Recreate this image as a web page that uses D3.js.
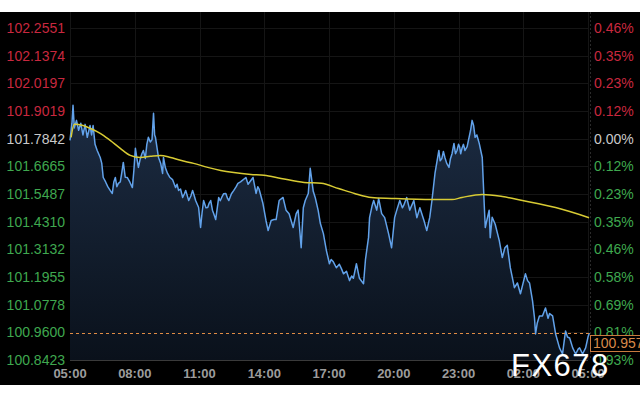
<!DOCTYPE html>
<html><head><meta charset="utf-8">
<script src="https://cdn.jsdelivr.net/npm/d3@7"></script>
<style>html,body{margin:0;padding:0;background:#fff;}svg{display:block;}</style>
</head><body><svg id="c" width="640" height="400"></svg>
<script>
// ---- data ----
const timeTickHours = [0, 3, 6, 9, 12, 15, 18, 21, 24];
const timeTickLabels = ["05:00","08:00","11:00","14:00","17:00","20:00","23:00","02:00","05:00"];
const priceTicks = [100.8423,100.9600,101.0778,101.1955,101.3132,101.4310,101.5487,101.6665,101.7842,101.9019,102.0197,102.1374,102.2551];
const pctLabels = ["0.93%","0.81%","0.69%","0.58%","0.46%","0.35%","0.23%","0.12%","0.00%","0.12%","0.23%","0.35%","0.46%"];
const refPrice = 101.7842;
const lastPrice = 100.957;
const lastPriceLabel = "100.957";
const watermark = "FX678";
// hours since 05:00
const priceHours = [0.00,0.09,0.14,0.20,0.30,0.40,0.50,0.60,0.70,0.80,0.93,1.00,1.07,1.16,1.26,1.40,1.47,1.54,1.65,1.75,1.86,1.96,2.03,2.10,2.17,2.24,2.33,2.40,2.47,2.56,2.65,2.77,2.89,2.96,3.03,3.10,3.17,3.26,3.33,3.40,3.49,3.56,3.63,3.72,3.80,3.87,3.92,3.96,4.05,4.10,4.20,4.29,4.33,4.42,4.52,4.62,4.75,4.89,4.96,5.03,5.12,5.22,5.30,5.36,5.50,5.60,5.68,5.76,5.82,5.96,6.05,6.12,6.19,6.30,6.38,6.45,6.52,6.60,6.66,6.75,6.89,6.96,7.03,7.12,7.22,7.30,7.36,7.48,7.59,7.70,7.78,
7.90,8.15,8.25,8.48,8.62,8.70,8.76,8.94,9.08,9.18,9.32,9.45,9.55,9.69,9.87,10.01,10.15,10.34,10.48,10.57,10.71,10.81,10.90,11.04,11.13,11.27,11.36,11.50,11.60,11.74,11.88,12.02,12.10,12.20,12.34,12.48,12.58,12.67,12.81,12.95,13.05,13.13,13.27,13.41,13.60,13.69,13.83,13.88,14.00,14.07,14.21,14.30,14.44,14.58,14.76,14.90,15.04,15.14,15.28,15.40,15.46,15.60,15.74,15.93,16.07,16.21,16.40,16.53,16.67,
16.77,16.91,17.09,17.15,17.23,17.30,17.37,17.45,17.56,17.63,17.70,17.79,17.86,17.93,18.00,18.05,18.10,18.16,18.23,18.30,18.40,18.49,18.56,18.63,18.70,18.77,18.85,18.96,19.10,19.19,19.24,19.42,19.47,19.56,19.70,19.89,20.03,20.15,20.26,20.40,20.59,20.73,20.87,21.10,21.20,21.29,21.43,21.52,21.57,21.65,21.75,21.89,22.03,22.15,22.22,22.36,22.50,22.68,22.82,22.96,23.05,23.15,23.29,23.43,23.55,23.61,23.75,23.89,24.00,24.06];
const priceValues = [101.777,101.850,101.926,101.830,101.862,101.820,101.850,101.800,101.845,101.790,101.840,101.800,101.840,101.760,101.734,101.704,101.680,101.619,101.600,101.580,101.564,101.551,101.600,101.619,101.580,101.594,101.600,101.640,101.683,101.620,101.619,101.600,101.576,101.650,101.743,101.700,101.662,101.700,101.720,101.734,101.700,101.760,101.790,101.770,101.780,101.892,101.800,101.790,101.734,101.704,101.680,101.636,101.704,101.660,101.636,101.620,101.610,101.576,101.590,101.564,101.570,101.534,101.550,101.564,101.521,101.540,101.564,101.540,101.521,101.491,101.406,101.470,101.521,101.490,101.491,101.510,101.521,101.480,101.465,101.440,101.534,101.520,101.534,101.550,101.551,101.530,101.521,101.550,101.564,101.580,101.594,
101.600,101.619,101.590,101.619,101.551,101.580,101.570,101.508,101.436,101.393,101.436,101.440,101.440,101.521,101.534,101.480,101.465,101.406,101.465,101.480,101.320,101.490,101.521,101.551,101.658,101.560,101.534,101.478,101.423,101.380,101.308,101.252,101.270,101.260,101.235,101.250,101.230,101.209,101.220,101.180,101.200,101.190,101.252,101.190,101.167,101.270,101.363,101.448,101.500,101.521,101.480,101.530,101.465,101.448,101.380,101.320,101.448,101.480,101.521,101.490,101.500,101.534,101.480,101.521,101.448,101.490,101.436,101.393,101.450,
101.521,101.636,101.734,101.690,101.700,101.730,101.704,101.680,101.662,101.700,101.720,101.764,101.720,101.734,101.760,101.750,101.720,101.743,101.760,101.734,101.750,101.790,101.820,101.862,101.840,101.790,101.800,101.764,101.704,101.508,101.406,101.480,101.363,101.450,101.420,101.350,101.278,101.320,101.330,101.235,101.150,101.170,101.124,101.209,101.180,101.170,101.094,101.022,100.953,101.000,101.030,101.030,101.064,101.020,101.040,101.030,100.953,100.894,100.868,100.966,100.940,100.936,100.894,100.868,100.890,100.894,100.868,100.894,100.940,100.957];
const maHours = [0.05,0.20,0.60,0.93,1.40,1.86,2.33,2.79,3.26,3.72,4.19,4.66,5.12,5.73,6.38,6.98,7.59,8.38,8.99,9.78,10.85,11.64,12.44,13.18,13.97,14.90,16.77,17.70,18.16,19.10,20.03,20.96,22.50,24.05];
const maValues = [101.790,101.845,101.840,101.828,101.807,101.777,101.743,101.713,101.704,101.709,101.713,101.704,101.692,101.679,101.662,101.649,101.640,101.632,101.628,101.615,101.598,101.594,101.572,101.551,101.534,101.530,101.525,101.525,101.534,101.547,101.538,101.521,101.491,101.448];

// ---- drawing ----
const svg = d3.select("#c");
const W = 640, H = 400;
const plotL = 70, plotR = 588, plotT = 12, plotB = 360;
const x = d3.scaleLinear().domain([0, 24]).range([plotL, plotR]);
const y = d3.scaleLinear().domain([100.8423, 102.2551]).range([360, 28]);

svg.append("rect").attr("x",0).attr("y",12).attr("width",W).attr("height",373).attr("fill","#000");

const defs = svg.append("defs");
const grad = defs.append("linearGradient").attr("id","ag").attr("x1",0).attr("y1",0).attr("x2",0).attr("y2",1);
grad.append("stop").attr("offset","0%").attr("stop-color","#1c2c43");
grad.append("stop").attr("offset","100%").attr("stop-color","#0a111b");

// grid
const grid = svg.append("g");
grid.selectAll("line.h").data(priceTicks).join("line")
  .attr("x1", plotL).attr("x2", plotR).attr("y1", d=>Math.round(y(d))+0.5).attr("y2", d=>Math.round(y(d))+0.5)
  .attr("stroke","#151515").attr("stroke-width",1);
grid.selectAll("line.v").data(timeTickHours).join("line")
  .attr("x1", d=>Math.round(x(d))+0.5).attr("x2", d=>Math.round(x(d))+0.5).attr("y1", plotT).attr("y2", plotB)
  .attr("stroke","#151515").attr("stroke-width",1);
svg.append("line").attr("x1",590.5).attr("x2",590.5).attr("y1",plotT).attr("y2",plotB)
  .attr("stroke","#2a2a2a").attr("stroke-dasharray","2,2");

const pts = priceHours.map((h,i)=>[h, priceValues[i]]);
const area = d3.area().x(d=>x(d[0])).y0(plotB).y1(d=>y(d[1]));
const line = d3.line().x(d=>x(d[0])).y(d=>y(d[1]));
svg.append("path").datum(pts).attr("d", area).attr("fill","url(#ag)");
svg.append("path").datum(pts).attr("d", line).attr("fill","none").attr("stroke","#62a2ea").attr("stroke-width",1.5).attr("stroke-linejoin","round");

const ma = maHours.map((h,i)=>[h, maValues[i]]);
svg.append("path").datum(ma).attr("d", d3.line().curve(d3.curveMonotoneX).x(d=>x(d[0])).y(d=>y(d[1])))
  .attr("fill","none").attr("stroke","#d8cb34").attr("stroke-width",1.5);

// bottom axis line
svg.append("line").attr("x1",plotL).attr("x2",plotR).attr("y1",plotB+0.5).attr("y2",plotB+0.5).attr("stroke","#3a3a3a");

// last price dashed line
svg.append("line").attr("x1",plotL).attr("x2",590).attr("y1",Math.round(y(lastPrice))+0.5).attr("y2",Math.round(y(lastPrice))+0.5)
  .attr("stroke","#e08c45").attr("stroke-width",1).attr("stroke-dasharray","3,3");

// left axis labels
const colorFor = (v)=> Math.abs(v-refPrice)<1e-6 ? "#c9c9c9" : (v>refPrice ? "#c8283f" : "#3fa84f");
svg.append("g").selectAll("text").data(priceTicks).join("text")
  .attr("x", 65).attr("y", d=>y(d)).attr("dy","0.36em").attr("text-anchor","end")
  .attr("font-family","Liberation Sans, Arial, sans-serif").attr("font-size",14)
  .attr("fill", d=>colorFor(d)).text(d=>d.toFixed(4));
// right axis labels
svg.append("g").selectAll("text").data(priceTicks).join("text")
  .attr("x", 594).attr("y", d=>y(d)).attr("dy","0.36em").attr("text-anchor","start")
  .attr("font-family","Liberation Sans, Arial, sans-serif").attr("font-size",14)
  .attr("fill", d=>colorFor(d)).text((d,i)=>pctLabels[i]);

// time labels
svg.append("g").selectAll("text").data(timeTickHours).join("text")
  .attr("x", d=>x(d)).attr("y", 378).attr("text-anchor","middle")
  .attr("font-family","Liberation Sans, Arial, sans-serif").attr("font-size",13).attr("font-weight","bold")
  .attr("fill","#9c9c9c").text((d,i)=>timeTickLabels[i]);

// last price box
const by = Math.round(y(lastPrice)) + 2;
svg.append("rect").attr("x",590.5).attr("y",by+0.5).attr("width",60).attr("height",16)
  .attr("fill","#000").attr("stroke","#c97a3e").attr("stroke-width",1);
svg.append("text").attr("x",593).attr("y",by+13).attr("font-family","Liberation Sans, Arial, sans-serif")
  .attr("font-size",14).attr("fill","#d88a4a").text(lastPriceLabel);

// watermark
svg.append("text").attr("x",511).attr("y",376).attr("font-family","Liberation Sans, Arial, sans-serif")
  .attr("font-size",31).attr("letter-spacing",1.5).attr("fill","#ffffff").text(watermark);
</script></body></html>
